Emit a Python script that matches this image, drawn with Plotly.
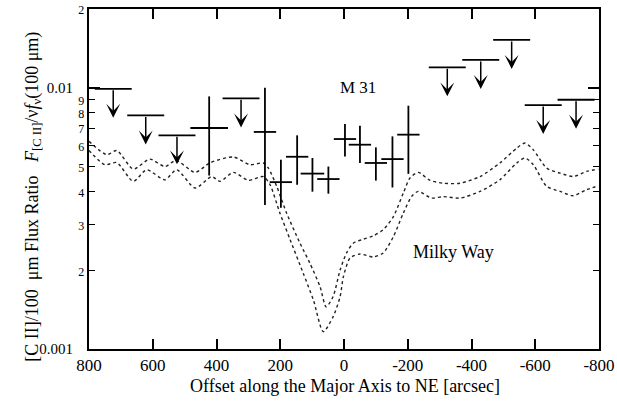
import math
import plotly.graph_objects as go

# ---------------- data ----------------
# Milky Way comparison curves (two dotted envelopes)
mw_upper_x = [800, 744, 713, 661, 609, 562, 527, 467, 420, 347, 295, 253, 237, 211, 180, 138, 107, 75, 56,
              34, 12, -8, -29, -60, -92, -123, -155, -186, -207, -233, -270, -311, -364, -427, -489, -542,
              -568, -594, -636, -678, -719, -761, -798]
mw_upper_y = [6.23e-3, 5.54e-3, 5.75e-3, 4.88e-3, 5.33e-3, 4.99e-3, 5.27e-3, 4.74e-3, 5.16e-3, 5.43e-3,
              5.07e-3, 5.15e-3, 4.92e-3, 4.19e-3, 3.31e-3, 2.54e-3, 2.13e-3, 1.73e-3, 1.45e-3,
              1.59e-3, 2.01e-3, 2.33e-3, 2.54e-3, 2.63e-3, 2.71e-3, 2.86e-3, 3.21e-3, 3.95e-3, 4.51e-3,
              4.74e-3, 4.42e-3, 4.31e-3, 4.31e-3, 4.57e-3, 5.15e-3, 5.87e-3, 6.14e-3, 5.78e-3, 4.92e-3,
              4.71e-3, 4.57e-3, 4.78e-3, 4.88e-3]
mw_lower_x = [800, 750, 713, 661, 619, 562, 525, 467, 415, 389, 347, 300, 253, 232, 201, 169, 128, 96, 65,
              34, 12, 2, -19, -50, -92, -123, -155, -186, -212, -233, -275, -311, -364, -427, -489, -542,
              -568, -594, -636, -678, -719, -761, -798]
mw_lower_y = [5.75e-3, 5.07e-3, 5.17e-3, 4.38e-3, 4.85e-3, 4.44e-3, 4.85e-3, 4.13e-3, 4.57e-3, 4.38e-3,
              4.74e-3, 4.42e-3, 4.57e-3, 4.25e-3, 3.31e-3, 2.62e-3, 1.95e-3, 1.54e-3, 1.165e-3,
              1.33e-3, 1.59e-3, 1.89e-3, 2.23e-3, 2.31e-3, 2.25e-3, 2.33e-3, 2.69e-3, 3.31e-3, 3.83e-3,
              4.01e-3, 3.78e-3, 3.83e-3, 3.78e-3, 4.01e-3, 4.44e-3, 5.15e-3, 5.38e-3, 5.07e-3, 4.19e-3,
              4.01e-3, 3.86e-3, 4.07e-3, 4.21e-3]

# M31 detections
det_x = [423, 248, 198, 147, 99, 49, -3, -50, -100, -152, -202]
det_y = [7.01e-3, 6.77e-3, 4.35e-3, 5.44e-3, 4.69e-3, 4.47e-3, 6.36e-3, 6.05e-3, 5.15e-3, 5.33e-3, 6.61e-3]
det_hi = [9.26e-3, 1.0e-2, 5.3e-3, 6.57e-3, 5.38e-3, 4.99e-3, 7.26e-3, 7.15e-3, 5.91e-3, 6.51e-3, 8.53e-3]
det_lo = [4.61e-3, 3.56e-3, 3.47e-3, 4.25e-3, 4.0e-3, 3.93e-3, 5.45e-3, 5.15e-3, 4.41e-3, 4.15e-3, 4.68e-3]
det_xerr = [59, 35, 35, 35, 37, 35, 35, 35, 35, 35, 35]

# M31 upper limits
lim_x = [724, 622, 524, 323, -324, -429, -526, -625, -728]
lim_y = [9.9e-3, 7.83e-3, 6.57e-3, 9.1e-3, 1.196e-2, 1.277e-2, 1.523e-2, 8.58e-3, 8.99e-3]
lim_xerr = [58] * len(lim_x)

# axis ticks
x_ticks = [800, 600, 400, 200, 0, -200, -400, -600, -800]
y_ticks = [0.001, 0.002, 0.003, 0.004, 0.005, 0.006, 0.007, 0.008, 0.009, 0.01, 0.02]
y_ticklabels = ["0.001", "2", "3", "4", "5", "6", "7", "8", "9", "0.01", "2"]
y_major = [0.001, 0.01]
y_range = [0.001, 0.02]
x_range = [800, -800]

# ---------------- style ----------------
FONT = "Liberation Serif"
INK = "black"
ARROW_DECADES = 0.111

def fmt_label(t):
    if t.startswith("0."):
        return t + "\u00a0\u00a0\u00a0"
    return '<span style="font-size:12px">' + t + '</span>'

fig = go.Figure()

for xs, ys in [(mw_upper_x, mw_upper_y), (mw_lower_x, mw_lower_y)]:
    fig.add_trace(go.Scatter(
        x=xs, y=ys, mode="lines",
        line=dict(color="#222", width=1.4, dash="dot", shape="spline", smoothing=0.7),
        showlegend=False, hoverinfo="skip"))

fig.add_trace(go.Scatter(
    x=det_x, y=det_y, mode="markers", marker=dict(size=1, color=INK),
    error_x=dict(type="data", array=det_xerr, symmetric=True, width=0, thickness=1.8, color=INK),
    error_y=dict(type="data", symmetric=False,
                 array=[h - v for h, v in zip(det_hi, det_y)],
                 arrayminus=[v - l for v, l in zip(det_y, det_lo)],
                 width=0, thickness=1.8, color=INK),
    showlegend=False))

fig.add_trace(go.Scatter(
    x=lim_x, y=lim_y, mode="markers", marker=dict(size=1, color=INK),
    error_x=dict(type="data", array=lim_xerr, symmetric=True, width=0, thickness=1.8, color=INK),
    showlegend=False))

annotations = []
for xv, yv in zip(lim_x, lim_y):
    annotations.append(dict(
        x=xv, y=math.log10(yv) - ARROW_DECADES, xref="x", yref="y",
        ax=xv, ay=math.log10(yv), axref="x", ayref="y",
        text="", showarrow=True, arrowhead=3, arrowsize=1.55, arrowwidth=1.5,
        arrowcolor=INK, standoff=0, startstandoff=0))

annotations.append(dict(x=-44, y=math.log10(0.0100), xref="x", yref="y", text="M 31",
                        showarrow=False, font=dict(family=FONT, size=17, color=INK)))
annotations.append(dict(x=-342, y=math.log10(2.36e-3), xref="x", yref="y", text="Milky Way",
                        showarrow=False, font=dict(family=FONT, size=18, color=INK)))
annotations.append(dict(x=0.502, y=-0.144, xref="paper", yref="paper",
                        text="Offset along the Major Axis to NE [arcsec]",
                        showarrow=False, font=dict(family=FONT, size=18, color=INK)))
annotations.append(dict(x=-0.136, y=0.4485, xref="paper", yref="paper", textangle=-90,
                        text="[C II]/100\u00a0\u00a0\u03bcm Flux Ratio\u00a0\u00a0\u00a0<i>F</i><sub>[C II]</sub>/\u03bd<i>f</i><sub>\u03bd</sub>(100\u00a0\u03bcm)",
                        showarrow=False, font=dict(family=FONT, size=18, color=INK)))

# invisible trace to carry the overlay axis with longer major ticks
fig.add_trace(go.Scatter(x=[0], y=[0.005], yaxis="y2", mode="markers",
                         marker=dict(size=0, opacity=0), showlegend=False, hoverinfo="skip"))

fig.update_layout(
    width=617, height=415,
    margin=dict(l=89, r=18, t=9, b=66, autoexpand=False),
    paper_bgcolor="white", plot_bgcolor="white",
    showlegend=False,
    font=dict(family=FONT, size=16, color=INK),
    annotations=annotations,
    xaxis=dict(range=x_range, tickvals=x_ticks, ticktext=[str(v) for v in x_ticks],
               ticks="inside", ticklen=10, tickwidth=1.5, tickcolor=INK, automargin=False,
               showline=True, linecolor=INK, linewidth=1.5, mirror="ticks",
               showgrid=False, zeroline=False, tickfont=dict(family=FONT, size=17, color=INK)),
    yaxis=dict(type="log", range=[math.log10(y_range[0]), math.log10(y_range[1])],
               tickvals=y_ticks, ticktext=[fmt_label(t) for t in y_ticklabels],
               ticks="inside", ticklen=6, tickwidth=1.3, tickcolor=INK, automargin=False,
               showline=True, linecolor=INK, linewidth=1.5, mirror="ticks",
               showgrid=False, zeroline=False, tickfont=dict(family=FONT, size=15, color=INK)),
    yaxis2=dict(type="log", range=[math.log10(y_range[0]), math.log10(y_range[1])],
                overlaying="y", side="left", tickvals=y_major, showticklabels=False,
                ticks="inside", ticklen=11, tickwidth=1.5, tickcolor=INK, automargin=False,
                showline=False, mirror="ticks", showgrid=False, zeroline=False),
)

fig.write_html("out.html", config={"displayModeBar": False},
               post_script="document.body.style.margin='0';document.body.style.overflow='hidden';")
